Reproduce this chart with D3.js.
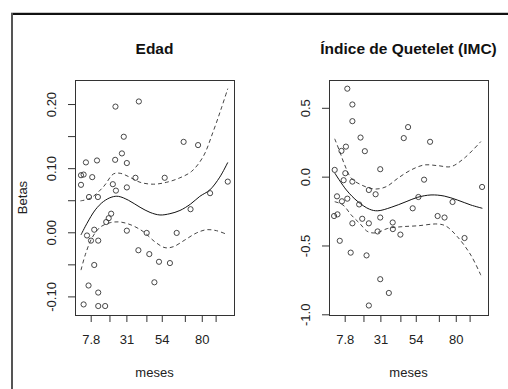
<!DOCTYPE html>
<html>
<head>
<meta charset="utf-8">
<script src="https://cdn.jsdelivr.net/npm/d3@7"></script>
<style>
  body { margin: 0; background: #fff; }
  svg { display: block; font-family: "Liberation Sans", Arial, sans-serif; }
</style>
</head>
<body>
<svg id="chart"></svg>
<script>
// x axis (meses)
const xTicks = [7.8, 20, 31, 44, 54, 69, 80, 89];
const xTickLabels = ['7.8', '', '31', '', '54', '', '80', ''];

// Edad panel
const edadYTicks = [-0.10, -0.05, 0, 0.05, 0.10, 0.15, 0.20];
const edadYTickLabels = ['-0.10', '', '0.00', '', '0.10', '', '0.20'];
const edadPoints = [
  [23.9, 0.196], [39.1, 0.204], [29.3, 0.149], [68.2, 0.141], [77.6, 0.136],
  [28.1, 0.123], [23.7, 0.113], [31.3, 0.108], [4.7, 0.109], [11.9, 0.112],
  [1.5, 0.089], [3.2, 0.090], [8.8, 0.086], [36.9, 0.085], [55.9, 0.085],
  [1.5, 0.074], [22.2, 0.075], [24.2, 0.065], [31.3, 0.070], [96.9, 0.079],
  [85.4, 0.061], [6.7, 0.055], [12.5, 0.055], [72.7, 0.036], [17.9, 0.016],
  [19.5, 0.022], [21.1, 0.029], [5.4, -0.005], [10.1, 0.004], [8.0, -0.013],
  [12.7, -0.013], [31.3, 0.0025], [44.2, -0.001], [63.7, -0.001], [38.8, -0.028],
  [45.9, -0.034], [52.2, -0.046], [59.3, -0.048], [10.1, -0.051], [49.2, -0.078],
  [6.4, -0.083], [12.7, -0.094], [3.2, -0.1125], [12.7, -0.115], [17.2, -0.115]
];
const edadFit = [
  [1.5, -0.004], [5.4, 0.014], [10.8, 0.035], [16.1, 0.048], [21.6, 0.055],
  [25.9, 0.056], [32.3, 0.050], [39.9, 0.039], [46.4, 0.031], [52.8, 0.027],
  [59.3, 0.029], [65.8, 0.034], [72.7, 0.044], [78.7, 0.056], [85.2, 0.066],
  [91.7, 0.086], [96.9, 0.109]
];
const edadUpper = [
  [1.1, 0.049], [7.5, 0.053], [16.1, 0.071], [22.6, 0.091], [27.0, 0.092],
  [32.3, 0.087], [39.9, 0.078], [48.5, 0.075], [57.2, 0.078], [65.8, 0.085],
  [73.4, 0.095], [80.9, 0.118], [87.4, 0.157], [92.8, 0.194], [96.9, 0.224]
];
const edadLower = [
  [1.5, -0.059], [4.3, -0.035], [8.6, -0.009], [14.0, 0.008], [20.5, 0.015],
  [27.0, 0.016], [34.5, 0.011], [42.0, 0.001], [49.6, -0.015], [56.1, -0.024],
  [61.5, -0.0225], [69.0, -0.012], [76.6, -0.001], [83.1, 0.004], [89.6, 0.0025],
  [96.0, -0.003]
];

// IMC panel
const imcYTicks = [-1.0, -0.5, 0.0, 0.5];
const imcYTickLabels = ['-1.0', '-0.5', '0.0', '0.5'];
const imcPoints = [
  [9.5, 0.639], [12.8, 0.524], [12.8, 0.403], [49.0, 0.360], [46.2, 0.280],
  [18.1, 0.284], [63.3, 0.253], [8.6, 0.218], [5.7, 0.187], [20.9, 0.185],
  [30.9, 0.054], [1.3, 0.049], [8.2, 0.025], [7.1, -0.026], [12.8, -0.036],
  [59.4, -0.022], [23.5, -0.097], [27.9, -0.128], [97.1, -0.075], [2.8, -0.143],
  [6.0, -0.179], [9.5, -0.160], [55.7, -0.148], [77.9, -0.184], [17.2, -0.202],
  [0.9, -0.286], [3.1, -0.274], [12.8, -0.339], [19.2, -0.306], [23.5, -0.339],
  [30.9, -0.297], [52.0, -0.230], [68.2, -0.286], [72.7, -0.297], [39.0, -0.333],
  [39.1, -0.381], [29.2, -0.398], [44.0, -0.421], [85.7, -0.446], [4.6, -0.466],
  [11.7, -0.552], [22.0, -0.572], [30.9, -0.745], [36.5, -0.845], [23.5, -0.936]
];
const imcFit = [
  [1.3, 0.027], [8.9, -0.097], [16.4, -0.182], [24.0, -0.237], [29.3, -0.248],
  [38.0, -0.223], [47.7, -0.182], [55.2, -0.150], [63.9, -0.133], [72.5, -0.141],
  [81.1, -0.170], [89.8, -0.206], [97.3, -0.230]
];
const imcUpper = [
  [1.3, 0.275], [4.6, 0.182], [7.8, 0.085], [12.1, -0.012], [18.6, -0.060],
  [27.2, -0.090], [34.8, -0.073], [42.3, -0.012], [51.0, 0.049], [59.6, 0.085],
  [68.2, 0.080], [76.9, 0.073], [85.5, 0.134], [96.3, 0.255]
];
const imcLower = [
  [1.3, -0.182], [6.7, -0.206], [12.1, -0.279], [17.5, -0.339], [22.9, -0.400],
  [28.3, -0.408], [35.8, -0.376], [44.5, -0.364], [55.2, -0.357], [68.2, -0.344],
  [73.6, -0.359], [81.1, -0.437], [89.8, -0.570], [96.3, -0.716]
];

const svg = d3.select('#chart').attr('width', 508).attr('height', 389);

// screenshot frame lines
svg.append('rect').attr('x', 11).attr('y', 12).attr('width', 497).attr('height', 1).attr('fill', '#c8c8c8');
svg.append('rect').attr('x', 11).attr('y', 13).attr('width', 497).attr('height', 2).attr('fill', '#111');
svg.append('rect').attr('x', 11).attr('y', 13).attr('width', 2).attr('height', 376).attr('fill', '#555');

function drawPanel(opts) {
  const { left, title, yDomain, yTicks, yLabels, points, fit, upper, lower, yTitle } = opts;
  const top = 80, bottom = 315, width = 159;

  const x = d3.scaleLinear().domain([-2.4, 100.95]).range([left, left + width]);
  const y = d3.scaleLinear().domain(yDomain).range([bottom, top]);

  const g = svg.append('g');

  // y axis
  const yAxis = g.append('g')
    .attr('transform', `translate(${left},0)`)
    .call(d3.axisLeft(y).tickValues(yTicks).tickSize(7).tickFormat((d, i) => yLabels[i]));
  yAxis.select('.domain').remove();
  yAxis.selectAll('line').attr('stroke', '#333');
  yAxis.selectAll('text')
    .attr('transform', 'rotate(-90)')
    .attr('x', 0).attr('y', -19).attr('dy', null)
    .attr('text-anchor', 'middle')
    .attr('fill', '#222')
    .style('font-size', '13px');

  // x axis
  const xAxis = g.append('g')
    .attr('transform', `translate(0,${bottom})`)
    .call(d3.axisBottom(x).tickValues(xTicks).tickSize(7).tickFormat((d, i) => xTickLabels[i]));
  xAxis.select('.domain').remove();
  xAxis.selectAll('line').attr('stroke', '#333');
  xAxis.selectAll('text')
    .attr('y', 29).attr('dy', null)
    .attr('fill', '#222')
    .style('font-size', '13px');

  // plot box
  g.append('rect')
    .attr('x', left + 0.5).attr('y', top + 0.5)
    .attr('width', width).attr('height', bottom - top)
    .attr('fill', 'none').attr('stroke', '#333');

  const line = d3.line()
    .x(d => x(d[0])).y(d => y(d[1]))
    .curve(d3.curveCatmullRom.alpha(0.5));

  g.append('path').datum(fit).attr('d', line)
    .attr('fill', 'none').attr('stroke', '#111').attr('stroke-width', 1);
  [upper, lower].forEach(band => {
    g.append('path').datum(band).attr('d', line)
      .attr('fill', 'none').attr('stroke', '#444').attr('stroke-width', 1)
      .attr('stroke-dasharray', '4,3');
  });

  g.selectAll('.pt').data(points).enter().append('circle')
    .attr('class', 'pt')
    .attr('cx', d => x(d[0])).attr('cy', d => y(d[1]))
    .attr('r', 2.6)
    .attr('fill', 'none').attr('stroke', '#333').attr('stroke-width', 0.9);

  // titles
  g.append('text')
    .attr('x', left + width / 2).attr('y', 54)
    .attr('text-anchor', 'middle')
    .style('font-size', '15.5px').style('font-weight', 'bold')
    .attr('fill', '#111')
    .text(title);

  g.append('text')
    .attr('x', left + width / 2).attr('y', 377)
    .attr('text-anchor', 'middle')
    .style('font-size', '13px')
    .attr('fill', '#222')
    .text('meses');

  if (yTitle) {
    g.append('text')
      .attr('transform', `translate(27,${(top + bottom) / 2}) rotate(-90)`)
      .attr('text-anchor', 'middle')
      .style('font-size', '13px')
      .attr('fill', '#222')
      .text(yTitle);
  }
}

drawPanel({
  left: 75, title: 'Edad', yDomain: [-0.129, 0.2375],
  yTicks: edadYTicks, yLabels: edadYTickLabels,
  points: edadPoints, fit: edadFit, upper: edadUpper, lower: edadLower,
  yTitle: 'Betas'
});

drawPanel({
  left: 329, title: 'Índice de Quetelet (IMC)', yDomain: [-1.005, 0.702],
  yTicks: imcYTicks, yLabels: imcYTickLabels,
  points: imcPoints, fit: imcFit, upper: imcUpper, lower: imcLower
});
</script>
</body>
</html>
